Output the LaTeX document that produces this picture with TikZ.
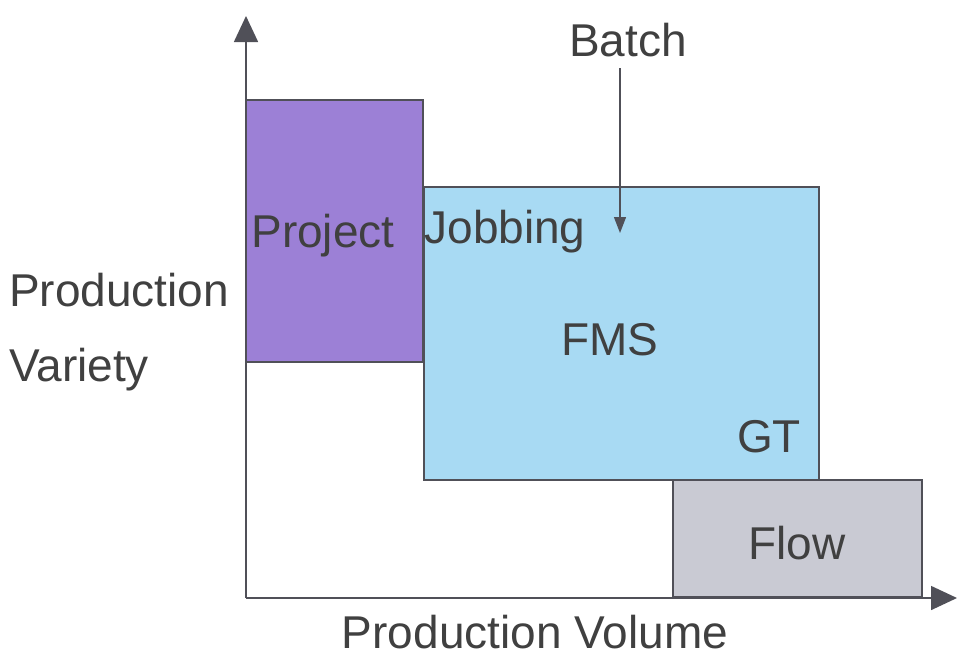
\documentclass[tikz,border=0pt]{standalone}
\usepackage{fontspec}
\setmainfont{Liberation Sans}
\usetikzlibrary{arrows.meta}
\definecolor{txt}{HTML}{404040}
\definecolor{projfill}{HTML}{9C80D6}
\definecolor{jobfill}{HTML}{A8DAF3}
\definecolor{flowfill}{HTML}{C9CAD3}
\definecolor{edge}{HTML}{505058}
\tikzset{
  blk/.style={draw=edge, line width=1.2pt},
  lbl/.style={text=txt, font=\fontsize{46}{54}\selectfont, inner sep=0pt},
  axis/.style={draw=edge, line width=1.6pt, -{Triangle[length=26pt,width=24pt]}},
}
\begin{document}
\begin{tikzpicture}[x=1pt,y=-1pt]
\useasboundingbox (0,0) rectangle (957,657);
\fill[white] (0,0) rectangle (957,657);
% boxes
\draw[blk, fill=projfill] (246,100) rectangle (423,362);
\draw[blk, fill=jobfill] (424,187) rectangle (819,480);
\draw[blk, fill=flowfill] (673,480) rectangle (922,597);
% axes
\coordinate (O) at (246,598);
\coordinate (Ytop) at (246,16);
\coordinate (Xend) at (957,598);
\draw[axis] (O) -- (Ytop);
\draw[axis] (O) -- (Xend);
% labels
\node[lbl] (batch) at (628,40) {Batch};
\coordinate (bend) at (620,233);
\draw[draw=edge, line width=1.3pt, -{Triangle[length=16pt,width=12pt]}] (620,68) -- (bend);
\node[lbl] (project) at (323,236) {Project};
\node[lbl] (jobbing) at (505,232) {Jobbing};
\node[lbl] (fms) at (610,340) {FMS};
\node[lbl] (gt) at (769,437) {GT};
\node[lbl] (flow) at (797,543) {Flow};
\node[lbl, anchor=west] (prod) at (9,290) {Production};
\node[lbl, anchor=west] (var) at (9,370) {Variety};
\node[lbl] (vol) at (535,632) {Production Volume};
\end{tikzpicture}
\end{document}
